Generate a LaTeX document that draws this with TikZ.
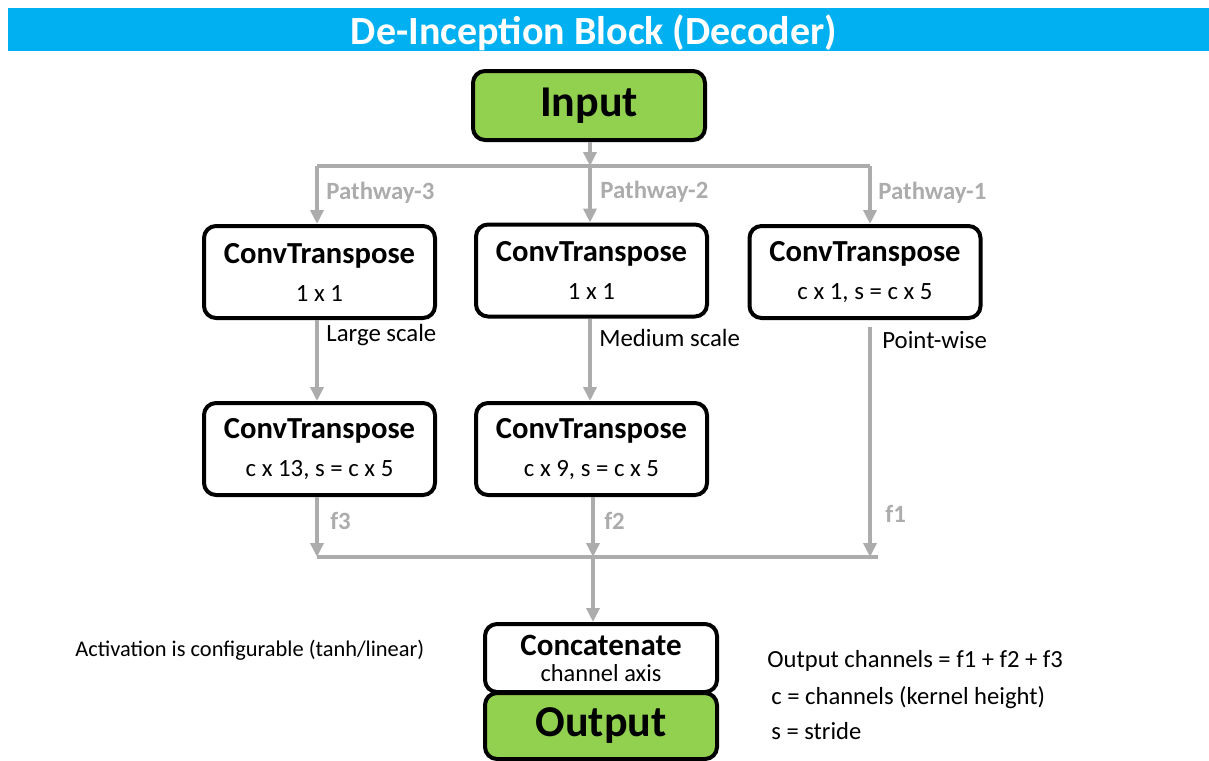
\documentclass[tikz,border=0pt]{standalone}
\usepackage{fontspec}
\setmainfont{Carlito}
\usetikzlibrary{arrows.meta,shapes,positioning}
\definecolor{dnblue}{RGB}{0,176,240}
\definecolor{dngreen}{RGB}{146,208,80}
\definecolor{dngray}{RGB}{172,172,172}
\tikzstyle{conv} = [rectangle, rounded corners=6pt, minimum width=115.5pt, minimum height=46pt, text centered, align=center, draw=black, fill=white, line width=2pt, font=\fontsize{12.4}{15}\selectfont]
\tikzstyle{io} = [rectangle, rounded corners=6pt, minimum width=116pt, minimum height=34pt, text centered, draw=black, fill=dngreen, line width=2pt, font=\fontsize{22}{24}\selectfont\bfseries]
\tikzstyle{flow} = [line width=2pt, color=dngray, -{Triangle[length=7pt,width=6.5pt]}]
\tikzstyle{bar} = [line width=2pt, color=dngray]
\tikzstyle{pathlabel} = [anchor=west, inner sep=0pt, text=dngray, font=\fontsize{12.4}{14}\selectfont\bfseries]
\tikzstyle{scalelabel} = [anchor=west, inner sep=0pt, font=\fontsize{12.4}{14}\selectfont]
\tikzstyle{note} = [anchor=west, inner sep=0pt, font=\fontsize{12.3}{14}\selectfont]

\newcommand{\cthead}{{\fontsize{15.3}{17}\selectfont\bfseries ConvTranspose}}

\begin{document}
\begin{tikzpicture}[x=0.5pt, y=-0.5pt]
\useasboundingbox (0,0) rectangle (1209,760);

% Title bar
\fill[dnblue] (8,8) rectangle (1209,51);
\node[text=white, font=\fontsize{20}{22}\selectfont\bfseries] (title) at (594,33) {De-Inception Block (Decoder)};

% Input
\node[io, minimum height=34.5pt] (input) at (589,105.5) {Input};

% Split bar
\coordinate (split) at (590,166);
\coordinate (split3) at (317,166);
\coordinate (split1) at (870,166);
\draw[bar] (split3) -- (split1);
\draw[flow] (input.south -| split) -- (split);

% First row
\node[conv] (convA) at (319.5,272) {\cthead\\[4pt]1 x 1};
\node[conv] (convB) at (591.5,270.5) {\cthead\\[4pt]1 x 1};
\node[conv] (convC) at (865,272) {\cthead\\[4pt]c x 1, s = c x 5};

\draw[flow] (split3) -- (split3 |- convA.north);
\draw[flow] (split) -- (split |- convB.north);
\draw[flow] (split1) -- (split1 |- convC.north);

\node[pathlabel] (pw3) at (326,193) {Pathway-3};
\node[pathlabel] (pw2) at (600,192) {Pathway-2};
\node[pathlabel] (pw1) at (878,193) {Pathway-1};

% Second row
\node[conv] (convA2) at (319.5,449) {\cthead\\[4pt]c x 13, s = c x 5};
\node[conv] (convB2) at (591.5,449) {\cthead\\[4pt]c x 9, s = c x 5};

\draw[flow] (convA.south -| split3) -- (split3 |- convA2.north);
\draw[flow] (convB.south -| split) -- (split |- convB2.north);

\node[scalelabel] (lsc) at (326,335) {Large scale};
\node[scalelabel] (msc) at (599,338) {Medium scale};
\node[scalelabel] (psc) at (882,340) {Point-wise};

% Merge bar
\coordinate (merge) at (593,557);
\coordinate (merge3) at (317,557);
\coordinate (merge1) at (878,557);
\draw[bar] (merge3) -- (merge1);
\draw[flow] (convA2.south -| merge3) -- (merge3);
\draw[flow] (convB2.south -| merge) -- (merge);
\draw[flow] ([yshift=-3.5pt]convC.south -| split1) -- (split1 |- merge);

\node[pathlabel] (f3) at (330,521) {f3};
\node[pathlabel] (f2) at (604,521) {f2};
\node[pathlabel] (f1) at (885,514) {f1};

% Concatenate and output
\node[conv, minimum width=116pt, minimum height=34pt, font=\fontsize{12.2}{13}\selectfont] (concat) at (601,658) {{\fontsize{15.5}{16}\selectfont\bfseries Concatenate}\\channel axis};
\node[io, minimum height=33pt] (output) at (601,726) {Output};
\draw[flow] (merge) -- (merge |- concat.north);

% Notes
\node[note, font=\fontsize{11.2}{13}\selectfont] (act) at (75,650) {Activation is configurable (tanh/linear)};
\node[note] (och) at (767,661) {Output channels = f1 + f2 + f3};
\node[note] (cdef) at (771,698) {c = channels (kernel height)};
\node[note] (sdef) at (771,731) {s = stride};
\end{tikzpicture}
\end{document}
